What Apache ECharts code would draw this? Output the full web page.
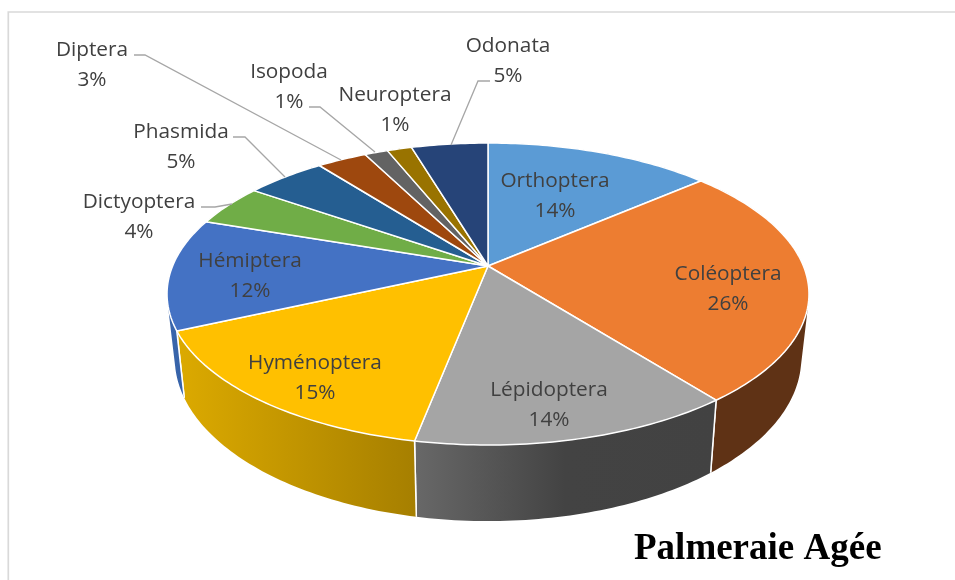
<!DOCTYPE html>
<html><head><meta charset="utf-8">
<style>html,body{margin:0;padding:0;background:#fff}#c{width:955px;height:580px}</style>
<script src="https://cdn.jsdelivr.net/npm/echarts@6/dist/echarts.min.js"></script>
</head><body><div id="c"></div>
<script>
const categories = ['Orthoptera','Coléoptera','Lépidoptera','Hyménoptera','Hémiptera','Dictyoptera','Phasmida','Diptera','Isopoda','Neuroptera','Odonata'];
const values = [13.65,25.75,13.65,15.2,11.95,4.49,4.81,3.0,1.4,1.49,4.61];
const topColors = ['#5b9bd5','#ed7d31','#a5a5a5','#ffc000','#4472c4','#70ad47','#255e91','#9e480e','#636363','#997300','#264478'];
const wallStops = [['#375d80','#375d80'],['#5f3215','#5f3215'],['#686868','#434343','#424242'],['#dcaa00','#a67f00'],['#3a66ad','#2f5c9f'],['#436829','#436829'],['#163857','#163857'],['#5f2b08','#5f2b08'],['#3b3b3b','#3b3b3b'],['#5c4500','#5c4500'],['#162848','#162848']];
const labelCenters = [[555,196],[728,289],[549,405],[315,378],[250,276],[139,217],[181,147],[92,65],[289,87],[395,110],[508,61]];
const leaderStarts = [null,null,null,null,null,[201,207],[233,137],[134,55],[309,107],null,[490,81]];
const leaderElbows = [null,null,null,null,null,[215,207],[245,137],[145,55],[320,107],null,[478,81]];
const leaderEnds = [null,null,null,null,null,[232,204],[285,177],[341,160],[375,152],null,[451,145]];

// projection of the pie disc (perspective), px
const apexX=488, apexY=266, A=315.4, B=145.8, K=0.1854;
const total = values.reduce((a,b)=>a+b,0);
function topPt(frac){const t=frac*2*Math.PI,u=Math.sin(t),v=Math.cos(t),w=1+K*v;return [apexX+A*u/w, apexY-B*v/w];}
function basePt(frac){const p=topPt(frac);return [apexX+(p[0]-apexX)*0.976, p[1]*1.08+40.5];}
function bounds(i){let s=0;for(let j=0;j<i;j++)s+=values[j];return [s/total,(s+values[i])/total];}
function arc(fn,a,b){const n=Math.max(4,Math.ceil((b-a)*360)),r=[];for(let k=0;k<=n;k++)r.push(fn(a+(b-a)*k/n));return r;}
function quadPath(q){
  let area=0;
  for(let k=0;k<4;k++){const p=q[k],r=q[(k+1)%4];area+=p[0]*r[1]-r[0]*p[1];}
  const pts=area<0?q.slice().reverse():q;
  return 'M'+pts.map(p=>p[0].toFixed(2)+' '+p[1].toFixed(2)).join('L')+'Z';
}

const labelFont = '20.8px "Open Sans"';
function renderWall(params){
  const i=params.dataIndex,[a,b]=bounds(i);
  const top=arc(topPt,a,b),base=arc(basePt,a,b);
  const xs=top.concat(base).map(p=>p[0]);
  const stops=wallStops[i],x0=Math.min(...xs),x1=Math.max(...xs);
  const fill={type:'linear',x:x0,y:0,x2:x1,y2:0,global:true,colorStops:stops.map((c,k)=>({offset:k/(stops.length-1),color:c}))};
  let d='';
  for(let k=0;k<top.length-1;k++) d+=quadPath([top[k],top[k+1],base[k+1],base[k]]);
  const n=top.length-1;
  return {type:'group',children:[
    {type:'path',shape:{pathData:d},style:{fill}},
    {type:'line',shape:{x1:top[0][0],y1:top[0][1],x2:base[0][0],y2:base[0][1]},style:{stroke:'#fff',lineWidth:1.5}},
    {type:'line',shape:{x1:top[n][0],y1:top[n][1],x2:base[n][0],y2:base[n][1]},style:{stroke:'#fff',lineWidth:1.5}}
  ]};
}
function renderTop(params){
  const i=params.dataIndex,[a,b]=bounds(i);
  return {type:'polygon',shape:{points:[[apexX,apexY]].concat(arc(topPt,a,b))},
    style:{fill:topColors[i],stroke:'#fff',lineWidth:1.5,lineJoin:'round'}};
}
function renderLabel(params,api){
  const i=params.dataIndex,children=[];
  if(leaderStarts[i]) children.push({type:'polyline',shape:{points:[leaderStarts[i],leaderElbows[i],leaderEnds[i]]},style:{fill:null,stroke:'#a6a6a6',lineWidth:1.3}});
  children.push({type:'text',style:{text:categories[i]+'\n'+Math.round(api.value(0))+'%',x:labelCenters[i][0],y:labelCenters[i][1],align:'center',verticalAlign:'middle',font:labelFont,lineHeight:30,fill:'#404040'}});
  return {type:'group',children};
}
const data=values.map(v=>[v]);
const mk=(fn,z)=>({type:'custom',coordinateSystem:'none',renderItem:fn,data,z,silent:true,animation:false,clip:false});
const chart=echarts.init(document.getElementById('c'),null,{renderer:'canvas'});
chart.setOption({
  animation:false,
  title:{text:'Palmeraie Agée',left:629,top:526,textStyle:{fontFamily:'"Liberation Serif"',fontWeight:'bold',fontSize:37,color:'#000'}},
  graphic:[{type:'polyline',z:0,silent:true,shape:{points:[[8.3,580],[8.3,12],[955,12]]},style:{fill:null,stroke:'#d9d9d9',lineWidth:1.7}}],
  series:[mk(renderWall,1),mk(renderTop,2),mk(renderLabel,3)]
});
</script></body></html>
